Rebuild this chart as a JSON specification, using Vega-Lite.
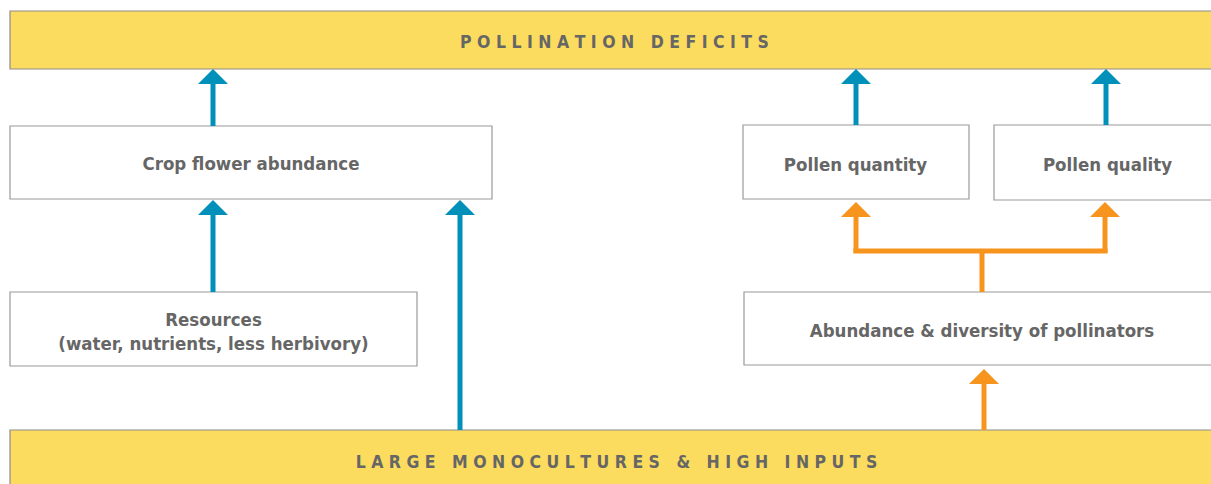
{
  "$schema": "https://vega.github.io/schema/vega-lite/v6.json",
  "width": 1211,
  "height": 484,
  "autosize": {"type": "none"},
  "padding": 0,
  "background": "white",
  "config": {"view": {"stroke": null}},
  "datasets": {
    "boxes": [
      {"name": "deficits", "kind": "banner", "x1": 10, "x2": 1230, "y1": 11, "y2": 69},
      {"name": "crop", "kind": "box", "x1": 10, "x2": 492, "y1": 126, "y2": 199},
      {"name": "quantity", "kind": "box", "x1": 743, "x2": 969, "y1": 125, "y2": 199},
      {"name": "quality", "kind": "box", "x1": 994, "x2": 1230, "y1": 125, "y2": 200},
      {"name": "resources", "kind": "box", "x1": 10, "x2": 417, "y1": 292, "y2": 366},
      {"name": "pollinators", "kind": "box", "x1": 744, "x2": 1230, "y1": 292, "y2": 365},
      {"name": "monocultures", "kind": "banner", "x1": 10, "x2": 1230, "y1": 430, "y2": 500}
    ],
    "shafts": [
      {"flow": "crop", "x": 213, "y1": 84, "y2": 126},
      {"flow": "crop", "x": 213, "y1": 215, "y2": 292},
      {"flow": "crop", "x": 460, "y1": 215, "y2": 430},
      {"flow": "crop", "x": 856, "y1": 84, "y2": 125},
      {"flow": "crop", "x": 1106, "y1": 84, "y2": 125},
      {"flow": "pollinator", "x": 856, "y1": 216, "y2": 253},
      {"flow": "pollinator", "x": 1105, "y1": 216, "y2": 253},
      {"flow": "pollinator", "x": 982, "y1": 251, "y2": 292},
      {"flow": "pollinator", "x": 984, "y1": 383, "y2": 430}
    ],
    "bars": [
      {"flow": "pollinator", "x1": 853.5, "x2": 1107.5, "y": 251}
    ],
    "heads": [
      {"flow": "crop", "x": 213, "y": 69},
      {"flow": "crop", "x": 213, "y": 200},
      {"flow": "crop", "x": 460, "y": 200},
      {"flow": "crop", "x": 856, "y": 69},
      {"flow": "crop", "x": 1106, "y": 69},
      {"flow": "pollinator", "x": 856, "y": 202},
      {"flow": "pollinator", "x": 1105, "y": 202},
      {"flow": "pollinator", "x": 984, "y": 369}
    ],
    "labels": [
      {"label": "Crop flower abundance", "x": 251, "y": 170},
      {"label": "Pollen quantity", "x": 855.5, "y": 170.5},
      {"label": "Pollen quality", "x": 1107.5, "y": 170.5},
      {"label": "Resources\n(water, nutrients, less herbivory)", "x": 213.5, "y": 326},
      {"label": "Abundance & diversity of pollinators", "x": 982, "y": 336.5}
    ],
    "titles": [
      {"label": "P\u00a0O\u00a0L\u00a0L\u00a0I\u00a0N\u00a0A\u00a0T\u00a0I\u00a0O\u00a0N\u00a0\u00a0\u00a0D\u00a0E\u00a0F\u00a0I\u00a0C\u00a0I\u00a0T\u00a0S", "x": 614.5, "y": 48.3},
      {"label": "L\u00a0A\u00a0R\u00a0G\u00a0E\u00a0\u00a0\u00a0M\u00a0O\u00a0N\u00a0O\u00a0C\u00a0U\u00a0L\u00a0T\u00a0U\u00a0R\u00a0E\u00a0S\u00a0\u00a0\u00a0&\u00a0\u00a0\u00a0H\u00a0I\u00a0G\u00a0H\u00a0\u00a0\u00a0I\u00a0N\u00a0P\u00a0U\u00a0T\u00a0S", "x": 616.5, "y": 468.3}
    ]
  },
  "layer": [
    {
      "data": {"name": "boxes"},
      "transform": [{"filter": "datum.kind === 'banner'"}],
      "mark": {"type": "rect", "fill": "#FCDC5E", "stroke": "#8C8C8C", "strokeWidth": 1.2, "clip": true},
      "encoding": {
        "x": {"field": "x1", "type": "quantitative", "scale": {"domain": [0, 1211], "nice": false, "zero": false}, "axis": null},
        "x2": {"field": "x2"},
        "y": {"field": "y1", "type": "quantitative", "scale": {"domain": [0, 484], "nice": false, "zero": false, "reverse": true}, "axis": null},
        "y2": {"field": "y2"}
      }
    },
    {
      "data": {"name": "boxes"},
      "transform": [{"filter": "datum.kind === 'box'"}],
      "mark": {"type": "rect", "fill": "white", "stroke": "#9A9A9A", "strokeWidth": 1.2, "clip": true},
      "encoding": {
        "x": {"field": "x1", "type": "quantitative"},
        "x2": {"field": "x2"},
        "y": {"field": "y1", "type": "quantitative"},
        "y2": {"field": "y2"}
      }
    },
    {
      "data": {"name": "shafts"},
      "mark": {"type": "rule", "strokeWidth": 5, "strokeCap": "butt"},
      "encoding": {
        "x": {"field": "x", "type": "quantitative"},
        "y": {"field": "y1", "type": "quantitative"},
        "y2": {"field": "y2"},
        "color": {"field": "flow", "type": "nominal", "scale": {"domain": ["crop", "pollinator"], "range": ["#0090BA", "#F7941D"]}, "legend": null}
      }
    },
    {
      "data": {"name": "bars"},
      "mark": {"type": "rule", "strokeWidth": 5, "strokeCap": "butt"},
      "encoding": {
        "x": {"field": "x1", "type": "quantitative"},
        "x2": {"field": "x2"},
        "y": {"field": "y", "type": "quantitative"},
        "color": {"field": "flow", "type": "nominal", "legend": null}
      }
    },
    {
      "data": {"name": "heads"},
      "mark": {"type": "point", "shape": "M-1,1L0,0L1,1Z", "size": 900, "filled": true, "opacity": 1, "strokeWidth": 0},
      "encoding": {
        "x": {"field": "x", "type": "quantitative"},
        "y": {"field": "y", "type": "quantitative"},
        "color": {"field": "flow", "type": "nominal", "legend": null}
      }
    },
    {
      "data": {"name": "labels"},
      "mark": {"type": "text", "font": "DejaVu Sans Condensed", "fontWeight": "bold", "fontSize": 18.5, "color": "#666666", "align": "center", "baseline": "alphabetic", "lineBreak": "\n", "lineHeight": 24},
      "encoding": {
        "x": {"field": "x", "type": "quantitative"},
        "y": {"field": "y", "type": "quantitative"},
        "text": {"field": "label"}
      }
    },
    {
      "data": {"name": "titles"},
      "mark": {"type": "text", "font": "DejaVu Sans Condensed", "fontWeight": "bold", "fontSize": 17.5, "color": "#666666", "align": "center", "baseline": "alphabetic"},
      "encoding": {
        "x": {"field": "x", "type": "quantitative"},
        "y": {"field": "y", "type": "quantitative"},
        "text": {"field": "label"}
      }
    }
  ]
}
